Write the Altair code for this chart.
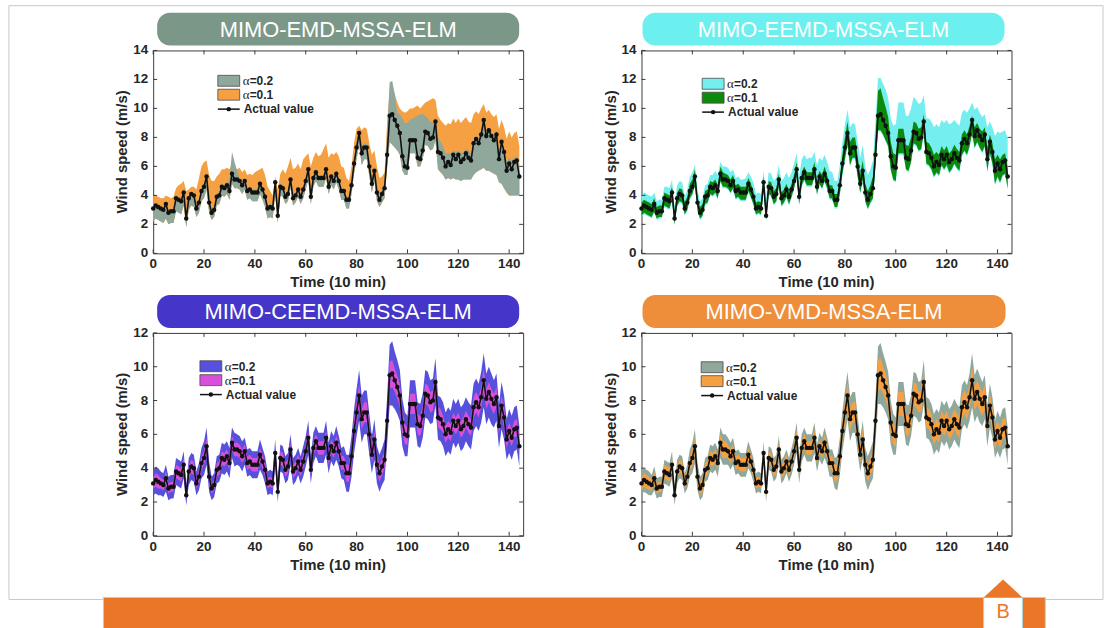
import altair as alt
import pandas as pd

# ---------------------------------------------------------------- data
steps = list(range(145))

actual = [
    3.1, 3.3, 3.2, 3.1, 3.0, 3.4, 2.8, 2.9, 2.9, 3.8,
    3.7, 3.6, 4.2, 2.4, 3.8, 4.1, 4.0, 3.1, 3.5, 4.3,
    4.6, 5.3, 3.5, 2.8, 3.0, 3.9, 4.0, 4.6, 4.5, 4.7,
    4.3, 5.5, 5.1, 5.1, 5.0, 4.7, 5.0, 4.3, 4.4, 4.2,
    4.2, 4.2, 4.8, 4.4, 3.9, 3.1, 3.2, 3.1, 4.9, 2.6,
    4.6, 4.5, 3.9, 4.1, 5.1, 3.8, 4.0, 4.4, 3.9, 4.4,
    5.0, 5.8, 3.9, 5.2, 5.6, 5.2, 5.2, 5.2, 5.8, 4.6,
    5.3, 5.0, 5.5, 5.0, 4.3, 4.3, 3.7, 3.7, 4.7, 6.2,
    7.3, 8.3, 6.9, 7.3, 7.3, 6.0, 4.8, 5.7, 4.2, 3.7,
    4.1, 4.5, 6.8, 9.5, 9.6, 9.2, 8.8, 8.3, 6.7, 6.0,
    5.9, 7.8, 7.8, 7.8, 6.6, 6.5, 7.1, 8.4, 8.3, 7.9,
    8.0, 9.1, 7.0, 6.9, 6.6, 6.0, 6.3, 6.1, 6.8, 6.5,
    6.8, 6.3, 6.5, 6.9, 6.6, 6.4, 7.6, 7.9, 7.6, 8.2,
    9.2, 8.1, 8.5, 8.1, 7.8, 8.2, 6.5, 7.7, 7.0, 5.7,
    6.2, 5.8, 6.3, 6.4, 5.3,
]

# MIMO-EMD-MSSA-ELM: alpha=0.2 band edges as offsets from the measured speed,
# alpha=0.1 band upper edge in m/s
emd_a2_lo = [
    -0.9, -0.9, -0.9, -0.9, -0.9, -1.0, -0.8, -0.8, -0.8, -0.9,
    -0.9, -0.9, -0.9, -0.6, -0.8, -0.8, -0.8, -0.6, -0.7, -0.7,
    -0.8, -0.9, -0.7, -0.5, -0.5, -0.6, -0.6, -0.6, -0.6, -0.6,
    -0.6, -0.7, -0.6, -0.6, -0.6, -0.6, -0.6, -0.6, -0.6, -0.6,
    -0.6, -0.6, -0.7, -0.7, -0.7, -0.7, -0.7, -0.7, -0.8, -0.5,
    -0.6, -0.6, -0.5, -0.5, -0.6, -0.5, -0.5, -0.5, -0.5, -0.6,
    -0.6, -0.7, -0.5, -0.6, -0.6, -0.6, -0.6, -0.6, -0.6, -0.5,
    -0.6, -0.6, -0.6, -0.6, -0.6, -0.6, -0.6, -0.6, -0.6, -0.7,
    -0.8, -0.8, -0.8, -0.8, -0.8, -0.7, -0.6, -0.7, -0.6, -0.5,
    -0.6, -0.7, -0.9, -1.8, -2.1, -1.9, -1.7, -1.5, -1.0, -0.6,
    -0.5, -0.9, -0.9, -0.9, -0.6, -0.5, -0.6, -0.9, -0.9, -0.8,
    -0.8, -1.3, -1.2, -1.3, -1.2, -0.9, -1.1, -1.0, -1.6, -1.4,
    -1.7, -1.3, -1.4, -1.8, -1.5, -1.3, -2.2, -2.3, -1.9, -2.4,
    -3.3, -2.4, -2.8, -2.5, -2.3, -2.8, -1.6, -2.9, -2.5, -1.5,
    -2.2, -1.8, -2.3, -2.4, -1.3,
]
emd_a2_hi = [
    0.1, 0.1, 0.1, 0.1, 0.1, 0.1, 0.1, 0.1, 0.1, 0.1,
    0.1, 0.1, 0.1, 0.2, 0.1, 0.1, 0.1, 0.2, 0.2, 0.2,
    0.2, 0.2, 0.2, 0.2, 0.2, 0.2, 0.2, 0.2, 0.2, 0.2,
    0.8, 1.5, 1.2, 0.6, 0.2, 0.2, 0.2, 0.2, 0.2, 0.2,
    0.2, 0.2, 0.2, 0.2, 0.2, 0.2, 0.2, 0.2, 0.2, 0.3,
    0.2, 0.2, 0.2, 0.2, 0.2, 0.2, 0.2, 0.2, 0.2, 0.2,
    0.2, 0.2, 0.2, 0.2, 0.2, 0.2, 0.2, 0.2, 0.2, 0.2,
    0.2, 0.2, 0.2, 0.2, 0.2, 0.2, 0.2, 0.2, 0.2, 0.2,
    0.3, 0.3, 0.3, 0.3, 0.3, 0.3, 0.3, 0.3, 0.3, 0.3,
    0.3, 0.5, 1.5, 2.3, 2.3, 1.8, 0.9, 1.3, 2.6, 3.0,
    3.1, 1.4, 1.5, 1.6, 2.9, 3.1, 2.5, 1.1, 1.0, 1.2,
    1.0, 0.3, 1.0, 0.8, 0.8, 0.9, 0.6, 0.8, 0.3, 0.5,
    0.3, 0.6, 0.5, 0.3, 0.5, 0.5, 0.2, 0.2, 0.3, 0.2,
    0.0, 0.3, 0.2, 0.3, 0.3, 0.2, 0.4, 0.1, 0.3, 0.6,
    0.4, 0.6, 0.3, 0.3, 0.6,
]
emd_a1_top = [
    4.0, 4.0, 3.9, 3.8, 3.8, 4.0, 3.9, 3.8, 3.9, 4.5,
    4.7, 4.8, 5.0, 4.3, 4.4, 4.6, 4.6, 4.4, 5.2, 6.0,
    6.3, 6.4, 5.4, 5.0, 5.0, 5.3, 5.5, 5.8, 5.8, 5.9,
    5.8, 6.2, 6.0, 5.8, 5.9, 5.6, 5.8, 5.4, 5.5, 5.4,
    5.6, 5.7, 5.8, 5.9, 5.4, 4.6, 4.3, 4.0, 5.3, 4.4,
    5.5, 5.8, 5.5, 6.0, 6.6, 5.8, 5.9, 6.2, 5.8, 6.5,
    6.7, 6.9, 6.0, 6.6, 7.0, 6.7, 6.8, 7.2, 7.6, 6.6,
    6.9, 6.8, 7.0, 6.7, 6.0, 5.9, 5.2, 5.0, 6.0, 7.6,
    8.6, 8.8, 8.5, 8.7, 8.6, 7.6, 6.8, 7.1, 6.0, 5.2,
    5.3, 5.6, 9.0, 11.2, 11.5, 11.0, 10.4, 10.0, 9.8, 9.7,
    9.8, 10.0, 10.0, 10.1, 10.2, 10.0, 10.2, 10.4, 10.5, 10.6,
    10.7, 10.6, 9.5, 9.2, 9.0, 8.8, 9.0, 8.9, 9.3, 9.0,
    9.3, 9.0, 9.2, 9.4, 9.1, 9.0, 9.6, 9.8, 9.6, 10.0,
    10.3, 9.7, 9.9, 9.6, 9.4, 9.6, 8.6, 9.2, 8.7, 7.9,
    8.4, 8.0, 8.3, 8.4, 7.4,
]

# MIMO-EEMD-MSSA-ELM: band edges as offsets from the measured speed
eemd_a2_lo = [
    -0.6, -0.6, -0.6, -0.6, -0.6, -0.6, -0.5, -0.5, -0.5, -0.6,
    -0.6, -0.6, -0.6, -0.5, -0.6, -0.6, -0.6, -0.5, -0.6, -0.6,
    -0.6, -0.7, -0.6, -0.5, -0.5, -0.6, -0.6, -0.6, -0.6, -0.6,
    -0.6, -0.6, -0.6, -0.6, -0.6, -0.6, -0.6, -0.6, -0.6, -0.6,
    -0.6, -0.6, -0.6, -0.6, -0.6, -0.5, -0.5, -0.5, -0.6, -0.4,
    -0.6, -0.6, -0.6, -0.6, -0.6, -0.6, -0.6, -0.6, -0.6, -0.6,
    -0.6, -0.6, -0.6, -0.6, -0.6, -0.6, -0.6, -0.6, -0.6, -0.6,
    -0.6, -0.6, -0.6, -0.6, -0.6, -0.6, -0.6, -0.6, -0.7, -0.8,
    -0.9, -0.9, -0.9, -0.8, -0.8, -0.8, -0.7, -0.7, -0.7, -0.7,
    -0.7, -0.8, -0.9, -1.1, -1.2, -1.1, -1.1, -1.0, -1.0, -1.0,
    -1.0, -1.0, -1.0, -1.0, -0.9, -0.9, -0.9, -0.9, -0.9, -0.9,
    -0.9, -0.9, -0.9, -0.9, -0.9, -0.8, -0.8, -0.8, -0.8, -0.8,
    -0.8, -0.8, -0.8, -0.8, -0.8, -0.8, -0.9, -0.9, -0.9, -0.9,
    -1.0, -0.9, -0.9, -0.9, -0.9, -0.9, -0.9, -0.9, -0.9, -1.0,
    -1.0, -1.0, -1.0, -1.0, -0.9,
]
eemd_a2_hi = [
    0.9, 0.9, 0.9, 0.9, 0.9, 0.8, 0.8, 0.8, 0.8, 0.8,
    0.9, 0.9, 0.9, 0.8, 0.9, 0.9, 0.9, 0.8, 0.9, 1.0,
    1.0, 0.8, 0.9, 0.8, 0.8, 0.8, 0.8, 0.8, 0.9, 1.0,
    1.1, 0.8, 0.9, 0.9, 0.9, 0.9, 0.8, 0.9, 0.9, 0.9,
    0.9, 1.0, 0.8, 0.9, 1.0, 1.0, 1.0, 1.0, 0.8, 1.2,
    1.0, 1.0, 1.1, 1.1, 1.0, 1.2, 1.2, 1.2, 1.3, 1.2,
    1.2, 1.1, 1.4, 1.3, 1.2, 1.3, 1.4, 1.4, 1.2, 1.5,
    1.3, 1.4, 1.3, 1.3, 1.4, 1.3, 1.3, 1.3, 1.4, 1.5,
    1.6, 1.6, 1.8, 1.7, 1.6, 1.7, 1.8, 1.8, 1.8, 1.7,
    1.7, 1.9, 2.3, 2.6, 2.5, 2.5, 2.5, 2.4, 2.6, 2.8,
    3.0, 2.6, 2.6, 2.6, 2.9, 3.0, 2.9, 2.4, 2.3, 2.4,
    2.4, 1.8, 2.3, 2.4, 2.5, 2.7, 2.6, 2.6, 2.4, 2.5,
    2.4, 2.6, 2.5, 2.3, 2.4, 2.4, 2.1, 2.0, 2.1, 1.8,
    1.2, 1.8, 1.6, 1.6, 1.6, 1.4, 2.2, 1.4, 1.7, 2.4,
    2.2, 2.5, 2.1, 2.1, 2.6,
]
eemd_a1_lo = [
    -0.5, -0.5, -0.5, -0.5, -0.5, -0.5, -0.4, -0.4, -0.4, -0.5,
    -0.5, -0.5, -0.5, -0.4, -0.5, -0.5, -0.5, -0.4, -0.5, -0.5,
    -0.5, -0.6, -0.5, -0.4, -0.4, -0.5, -0.5, -0.5, -0.5, -0.5,
    -0.5, -0.5, -0.5, -0.5, -0.5, -0.5, -0.5, -0.5, -0.5, -0.5,
    -0.5, -0.5, -0.5, -0.5, -0.5, -0.4, -0.4, -0.4, -0.5, -0.3,
    -0.5, -0.5, -0.5, -0.5, -0.5, -0.5, -0.5, -0.5, -0.5, -0.5,
    -0.5, -0.5, -0.5, -0.5, -0.5, -0.5, -0.5, -0.5, -0.5, -0.5,
    -0.5, -0.5, -0.5, -0.5, -0.5, -0.5, -0.5, -0.5, -0.6, -0.7,
    -0.8, -0.8, -0.8, -0.7, -0.7, -0.7, -0.6, -0.6, -0.6, -0.6,
    -0.6, -0.7, -0.8, -1.0, -1.1, -1.0, -1.0, -0.9, -0.9, -0.9,
    -0.9, -0.9, -0.9, -0.9, -0.8, -0.8, -0.8, -0.8, -0.8, -0.8,
    -0.8, -0.8, -0.8, -0.8, -0.8, -0.7, -0.7, -0.7, -0.7, -0.7,
    -0.7, -0.7, -0.7, -0.7, -0.7, -0.7, -0.8, -0.8, -0.8, -0.8,
    -0.9, -0.8, -0.8, -0.8, -0.8, -0.8, -0.8, -0.8, -0.8, -0.9,
    -0.9, -0.9, -0.9, -0.9, -0.8,
]
eemd_a1_hi = [
    0.4, 0.4, 0.4, 0.4, 0.4, 0.4, 0.4, 0.4, 0.4, 0.4,
    0.4, 0.4, 0.4, 0.4, 0.4, 0.4, 0.4, 0.4, 0.4, 0.5,
    0.5, 0.5, 0.4, 0.4, 0.4, 0.4, 0.4, 0.4, 0.4, 0.4,
    0.4, 0.5, 0.5, 0.4, 0.4, 0.4, 0.4, 0.4, 0.4, 0.4,
    0.4, 0.4, 0.4, 0.4, 0.4, 0.4, 0.4, 0.4, 0.4, 0.4,
    0.4, 0.4, 0.4, 0.4, 0.4, 0.4, 0.4, 0.4, 0.4, 0.4,
    0.4, 0.5, 0.4, 0.4, 0.4, 0.4, 0.4, 0.4, 0.5, 0.4,
    0.4, 0.4, 0.5, 0.4, 0.4, 0.4, 0.4, 0.4, 0.5, 0.6,
    0.7, 0.8, 0.8, 0.7, 0.7, 0.7, 0.7, 0.7, 0.6, 0.6,
    0.6, 0.8, 1.2, 1.7, 1.8, 1.5, 1.3, 1.1, 1.0, 0.9,
    0.9, 0.8, 0.8, 0.8, 0.9, 0.9, 0.9, 0.7, 0.7, 0.7,
    0.7, 0.5, 0.7, 0.7, 0.7, 0.8, 0.7, 0.7, 0.6, 0.6,
    0.6, 0.6, 0.6, 0.6, 0.6, 0.6, 0.6, 0.6, 0.6, 0.6,
    0.3, 0.6, 0.5, 0.5, 0.6, 0.5, 0.8, 0.5, 0.6, 0.8,
    0.6, 0.7, 0.5, 0.5, 0.6,
]

# MIMO-CEEMD-MSSA-ELM: half widths of the two bands
ceemd_a2_half = [
    0.7, 0.8, 0.8, 0.7, 0.7, 0.8, 0.7, 0.7, 0.7, 0.8,
    0.8, 0.8, 0.8, 0.6, 0.8, 0.8, 0.8, 0.7, 0.8, 0.9,
    1.0, 1.1, 0.9, 0.7, 0.7, 0.8, 0.8, 0.9, 0.9, 0.9,
    0.9, 0.9, 1.0, 0.9, 0.9, 0.9, 0.8, 0.8, 0.8, 0.8,
    0.8, 0.8, 0.9, 0.8, 0.8, 0.7, 0.7, 0.7, 0.8, 0.6,
    0.8, 0.8, 0.8, 0.8, 0.9, 0.8, 0.8, 0.8, 0.8, 0.9,
    0.9, 1.0, 0.8, 0.9, 0.9, 0.9, 0.9, 0.9, 1.0, 0.9,
    0.9, 0.9, 1.0, 0.9, 0.9, 1.0, 1.1, 1.1, 1.2, 1.3,
    1.4, 1.5, 1.4, 1.3, 1.3, 1.2, 1.1, 1.2, 1.1, 1.1,
    1.1, 1.2, 1.4, 1.8, 1.9, 1.7, 1.6, 1.5, 1.4, 1.3,
    1.2, 1.4, 1.4, 1.4, 1.3, 1.3, 1.3, 1.4, 1.4, 1.3,
    1.3, 1.4, 1.3, 1.3, 1.3, 1.3, 1.3, 1.3, 1.3, 1.3,
    1.3, 1.3, 1.3, 1.3, 1.3, 1.3, 1.4, 1.4, 1.4, 1.5,
    1.6, 1.5, 1.5, 1.5, 1.4, 1.4, 1.3, 1.4, 1.3, 1.2,
    1.3, 1.3, 1.3, 1.3, 1.2,
]
ceemd_a1_half = [
    0.3, 0.4, 0.4, 0.3, 0.3, 0.4, 0.3, 0.3, 0.3, 0.4,
    0.4, 0.4, 0.4, 0.3, 0.4, 0.4, 0.4, 0.3, 0.4, 0.4,
    0.4, 0.5, 0.4, 0.3, 0.3, 0.4, 0.4, 0.4, 0.4, 0.4,
    0.4, 0.4, 0.4, 0.4, 0.4, 0.4, 0.4, 0.4, 0.4, 0.4,
    0.4, 0.4, 0.4, 0.4, 0.4, 0.3, 0.3, 0.3, 0.4, 0.3,
    0.4, 0.4, 0.4, 0.4, 0.4, 0.4, 0.4, 0.4, 0.4, 0.4,
    0.4, 0.4, 0.4, 0.4, 0.4, 0.4, 0.4, 0.4, 0.4, 0.4,
    0.4, 0.4, 0.4, 0.4, 0.4, 0.4, 0.5, 0.5, 0.5, 0.6,
    0.6, 0.7, 0.6, 0.6, 0.6, 0.6, 0.5, 0.5, 0.5, 0.5,
    0.5, 0.5, 0.6, 0.8, 0.8, 0.7, 0.7, 0.7, 0.6, 0.6,
    0.5, 0.6, 0.6, 0.6, 0.6, 0.6, 0.6, 0.6, 0.6, 0.6,
    0.6, 0.6, 0.6, 0.6, 0.5, 0.5, 0.5, 0.5, 0.5, 0.5,
    0.5, 0.5, 0.5, 0.5, 0.5, 0.5, 0.6, 0.6, 0.6, 0.6,
    0.7, 0.6, 0.6, 0.6, 0.6, 0.6, 0.5, 0.6, 0.6, 0.5,
    0.5, 0.5, 0.5, 0.5, 0.5,
]

# MIMO-VMD-MSSA-ELM: half widths of the two bands
vmd_a2_half = [
    0.7, 0.7, 0.7, 0.7, 0.6, 0.7, 0.6, 0.6, 0.6, 0.7,
    0.7, 0.7, 0.8, 0.6, 0.7, 0.7, 0.7, 0.6, 0.7, 0.8,
    0.9, 1.0, 0.8, 0.7, 0.7, 0.7, 0.7, 0.8, 0.8, 0.8,
    0.8, 0.9, 0.9, 0.9, 0.8, 0.8, 0.8, 0.7, 0.7, 0.7,
    0.7, 0.7, 0.8, 0.7, 0.7, 0.6, 0.6, 0.6, 0.7, 0.6,
    0.7, 0.7, 0.7, 0.7, 0.8, 0.7, 0.7, 0.7, 0.7, 0.8,
    0.8, 0.9, 0.8, 0.8, 0.8, 0.8, 0.8, 0.8, 0.9, 0.8,
    0.8, 0.8, 0.9, 0.8, 0.8, 0.8, 0.9, 1.0, 1.1, 1.2,
    1.3, 1.4, 1.3, 1.2, 1.2, 1.1, 1.0, 1.1, 1.0, 1.0,
    1.0, 1.1, 1.3, 1.7, 1.8, 1.6, 1.5, 1.4, 1.3, 1.2,
    1.1, 1.3, 1.3, 1.3, 1.2, 1.2, 1.2, 1.3, 1.3, 1.2,
    1.2, 1.3, 1.2, 1.2, 1.2, 1.2, 1.2, 1.2, 1.2, 1.2,
    1.2, 1.2, 1.2, 1.2, 1.2, 1.2, 1.3, 1.3, 1.3, 1.4,
    1.6, 1.4, 1.4, 1.4, 1.3, 1.3, 1.2, 1.3, 1.2, 1.1,
    1.2, 1.2, 1.2, 1.2, 1.1,
]
vmd_a1_half = [
    0.4, 0.4, 0.4, 0.4, 0.3, 0.4, 0.3, 0.3, 0.3, 0.4,
    0.4, 0.4, 0.4, 0.3, 0.4, 0.4, 0.4, 0.3, 0.4, 0.4,
    0.5, 0.5, 0.4, 0.4, 0.4, 0.4, 0.4, 0.4, 0.4, 0.4,
    0.4, 0.5, 0.5, 0.5, 0.4, 0.4, 0.4, 0.4, 0.4, 0.4,
    0.4, 0.4, 0.4, 0.4, 0.4, 0.3, 0.3, 0.3, 0.4, 0.3,
    0.4, 0.4, 0.4, 0.4, 0.4, 0.4, 0.4, 0.4, 0.4, 0.4,
    0.4, 0.5, 0.4, 0.4, 0.4, 0.4, 0.4, 0.4, 0.5, 0.4,
    0.4, 0.4, 0.5, 0.4, 0.4, 0.4, 0.5, 0.5, 0.6, 0.6,
    0.7, 0.8, 0.7, 0.6, 0.6, 0.6, 0.5, 0.6, 0.5, 0.5,
    0.5, 0.6, 0.7, 0.9, 0.9, 0.8, 0.8, 0.7, 0.7, 0.6,
    0.6, 0.7, 0.7, 0.7, 0.6, 0.6, 0.6, 0.7, 0.7, 0.6,
    0.6, 0.7, 0.6, 0.6, 0.6, 0.6, 0.6, 0.6, 0.6, 0.6,
    0.6, 0.6, 0.6, 0.6, 0.6, 0.6, 0.7, 0.7, 0.7, 0.7,
    0.8, 0.7, 0.7, 0.7, 0.7, 0.7, 0.6, 0.7, 0.6, 0.6,
    0.6, 0.6, 0.6, 0.6, 0.6,
]

x_ticks = [0, 20, 40, 60, 80, 100, 120, 140]
y_ticks_top = [0, 2, 4, 6, 8, 10, 12, 14]
y_ticks_bottom = [0, 2, 4, 6, 8, 10, 12]

# ---------------------------------------------------------------- style
W, H = 372, 204
X_MAX = 145.5
SANS = "Liberation Sans"
SERIF = "Liberation Serif"
INK = "#262626"
FRAME = "#3a3a3a"
ONE = alt.Data(values=[{"k": 0}])


def add(a, b):
    return [round(p + q, 2) for p, q in zip(a, b)]


def sub(a, b):
    return [round(p - q, 2) for p, q in zip(a, b)]


def box(x1, x2, y1, y2, **kw):
    return alt.Chart(ONE).mark_rect(**kw).encode(
        x=alt.value(x1), x2=alt.value(x2), y=alt.value(y1), y2=alt.value(y2))


def label(x, y, txt, **kw):
    return alt.Chart(ONE).mark_text(text=txt, **kw).encode(
        x=alt.value(x), y=alt.value(y))


def legend(lx, ly, colors):
    parts = []
    for i, (col, txt) in enumerate(zip(colors, ["=0.2", "=0.1"])):
        y1 = ly + i * 14
        parts.append(box(lx, lx + 22, y1, y1 + 11, fill=col, stroke="#4a4a4a", strokeWidth=0.8))
        parts.append(label(lx + 25, y1 + 6, "\u03b1", font=SERIF, fontSize=13,
                           color=INK, align="left", baseline="middle"))
        parts.append(label(lx + 32, y1 + 6, txt, font=SANS, fontSize=12, fontWeight="bold",
                           color=INK, align="left", baseline="middle"))
    yl = ly + 34
    parts.append(alt.Chart(ONE).mark_rule(color="#111", strokeWidth=1.5).encode(
        x=alt.value(lx), x2=alt.value(lx + 22), y=alt.value(yl)))
    parts.append(alt.Chart(ONE).mark_point(filled=True, color="#111", size=20, opacity=1).encode(
        x=alt.value(lx + 11), y=alt.value(yl)))
    parts.append(label(lx + 26, yl, "Actual value", font=SANS, fontSize=12, fontWeight="bold",
                       color=INK, align="left", baseline="middle"))
    return parts


def panel(name, head_color, bands, legend_colors, y_max, y_ticks, lx, ly, head_x=(4, 368), extras=()):
    xs = alt.Scale(domain=[0, X_MAX], nice=False, zero=False)
    ys = alt.Scale(domain=[0, y_max], nice=False, zero=False)
    X = lambda f: alt.X(f, scale=xs, axis=None)
    Y = lambda f: alt.Y(f, scale=ys, axis=None)
    layers = list(extras)
    for lo, hi, col in bands:
        df = pd.DataFrame({"t": steps, "lo": lo, "hi": hi})
        layers.append(alt.Chart(df).mark_area(color=col, opacity=1).encode(
            x=X("t:Q"), y=Y("lo:Q"), y2="hi:Q"))

    ldf = pd.DataFrame({"t": steps, "v": actual})
    layers.append(alt.Chart(ldf).mark_line(
        color="#111", strokeWidth=1.6,
        point=alt.OverlayMarkDef(filled=True, color="#111", size=20, opacity=1),
    ).encode(x=X("t:Q"), y=Y("v:Q")))

    # inward ticks on all four sides
    xt = alt.Chart(pd.DataFrame({"t": x_ticks, "s": [str(v) for v in x_ticks]}))
    yt = alt.Chart(pd.DataFrame({"v": y_ticks, "s": [str(v) for v in y_ticks]}))
    layers.append(xt.mark_rule(color=FRAME).encode(x=X("t:Q"), y=alt.value(H), y2=alt.value(H - 4)))
    layers.append(xt.mark_rule(color=FRAME).encode(x=X("t:Q"), y=alt.value(0), y2=alt.value(4)))
    layers.append(yt.mark_rule(color=FRAME).encode(y=Y("v:Q"), x=alt.value(0), x2=alt.value(4)))
    layers.append(yt.mark_rule(color=FRAME).encode(y=Y("v:Q"), x=alt.value(W - 4), x2=alt.value(W)))

    # tick labels and axis titles
    tick_font = dict(font=SANS, fontSize=13.5, fontWeight="bold", color=INK)
    layers.append(xt.mark_text(baseline="top", align="center", **tick_font).encode(
        x=X("t:Q"), y=alt.value(H + 4), text="s:N"))
    layers.append(yt.mark_text(baseline="middle", align="right", **tick_font).encode(
        y=Y("v:Q"), x=alt.value(-5), text="s:N"))
    title_font = dict(font=SANS, fontSize=15, fontWeight="bold", color=INK,
                      align="center", baseline="middle")
    layers.append(label(W / 2, H + 29, "Time (10 min)", **title_font))
    layers.append(label(-31, H / 2, "Wind speed (m/s)", angle=270, **title_font))

    layers += legend(lx, ly, legend_colors)

    # rounded header above the plot
    layers.append(box(head_x[0], head_x[1], -38, -5, fill=head_color, cornerRadius=13))
    layers.append(label((head_x[0] + head_x[1]) / 2, -21, name, font=SANS, fontSize=22,
                        color="white", align="center", baseline="middle"))
    return alt.layer(*layers).properties(width=W, height=H)


# page furniture, placed relative to the first panel's plot origin
ORANGE = "#ec7627"
page = [
    box(-153, 951, -48, 580, fill="white", opacity=0),
    box(-145, 955, -45, 552, fill="transparent", stroke="#c8c8c8", strokeWidth=1),
    box(-50, 897, 550, 584, fill=ORANGE, stroke="#a6d8d8", strokeWidth=1),
    box(835, 874, 550, 584, fill="white", stroke="#a6d8d8", strokeWidth=1),
    alt.Chart(ONE).mark_point(shape="M-1,0.46L0,-0.46L1,0.46Z", size=1521, filled=True,
                              color=ORANGE, opacity=1).encode(x=alt.value(854.5), y=alt.value(541)),
    label(854.5, 565, "B", font=SANS, fontSize=20, color=ORANGE, align="center", baseline="middle"),
]

GRAY = "#8fa89b"
AMBER = "#f5a143"

p1 = panel(
    "MIMO-EMD-MSSA-ELM", "#7b9788",
    [(add(actual, emd_a2_lo), emd_a1_top, AMBER),
     (add(actual, emd_a2_lo), add(actual, emd_a2_hi), GRAY)],
    [GRAY, AMBER], 14, y_ticks_top, 65, 25, extras=page)

p2 = panel(
    "MIMO-EEMD-MSSA-ELM", "#6cefef",
    [(add(actual, eemd_a2_lo), add(actual, eemd_a2_hi), "#74eeee"),
     (add(actual, eemd_a1_lo), add(actual, eemd_a1_hi), "#0c8a0c")],
    ["#74eeee", "#0c8a0c"], 14, y_ticks_top, 61, 28, head_x=(1, 365))

p3 = panel(
    "MIMO-CEEMD-MSSA-ELM", "#4535c8",
    [(sub(actual, ceemd_a2_half), add(actual, ceemd_a2_half), "#5750dc"),
     (sub(actual, ceemd_a1_half), add(actual, ceemd_a1_half), "#d84fdc")],
    ["#5750dc", "#d84fdc"], 12, y_ticks_bottom, 47, 28)

p4 = panel(
    "MIMO-VMD-MSSA-ELM", "#ef8e3a",
    [(sub(actual, vmd_a2_half), add(actual, vmd_a2_half), GRAY),
     (sub(actual, vmd_a1_half), add(actual, vmd_a1_half), AMBER)],
    [GRAY, AMBER], 12, y_ticks_bottom, 60, 29, head_x=(1, 366))

chart = alt.concat(
    p1, p2, p3, p4, columns=2, spacing={"row": 80, "column": 119}, bounds="flush", padding=0,
).configure(background="white").configure_view(stroke=FRAME, strokeWidth=1)

chart.save("out.html", embed_options={"renderer": "svg", "actions": False})
